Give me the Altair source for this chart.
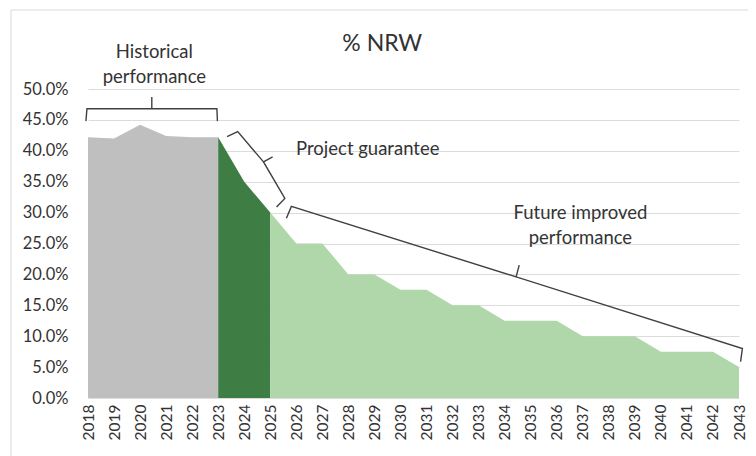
import altair as alt
import pandas as pd

# --- data ---
years = list(range(2018, 2044))
nrw_pct = [42.2, 42.0, 44.2, 42.4, 42.2, 42.2, 35.0, 30.0, 25.0, 25.0, 20.0, 20.0,
           17.5, 17.5, 15.0, 15.0, 12.5, 12.5, 12.5, 10.0, 10.0, 10.0, 7.5, 7.5, 7.5, 5.0]
segments = ["Historical", "Project", "Future"]
segment_ranges = [(2018, 2023), (2023, 2025), (2025, 2043)]
segment_colors = ["#bfbfbf", "#3e7e44", "#b0d7aa"]
y_ticks = [0, 0.05, 0.10, 0.15, 0.20, 0.25, 0.30, 0.35, 0.40, 0.45, 0.50]

# brace annotations (year, percent) in data coordinates
brace_hist_x = [2017.92, 2017.96, 2020.45, 2020.45, 2020.45, 2022.95, 2022.97]
brace_hist_y = [44.8, 46.8, 46.8, 48.7, 46.8, 46.8, 44.8]
brace_proj_x = [2023.34, 2023.75, 2024.74, 2025.09, 2024.74, 2025.56, 2025.24]
brace_proj_y = [42.3, 43.1, 38.2, 39.0, 38.2, 32.3, 30.9]
brace_fut_x = [2025.62, 2025.81, 2034.44, 2034.56, 2034.44, 2043.13, 2043.06]
brace_fut_y = [29.1, 31.0, 19.6, 21.5, 19.6, 8.0, 5.9]

label_texts = ["% NRW", "Historical", "performance", "Project guarantee",
               "Future improved", "performance"]
label_x = [2029.3, 2020.55, 2020.55, 2025.99, 2036.91, 2036.91]
label_y = [57.3, 56.0, 51.9, 40.3, 29.9, 25.9]
label_size = [23, 18.5, 18.5, 18.5, 18.5, 18.5]
label_align = ["center", "center", "center", "left", "center", "center"]

# --- build tables ---
rows = []
for seg, (a, b) in zip(segments, segment_ranges):
    for yr, v in zip(years, nrw_pct):
        if a <= yr <= b:
            rows.append({"year": yr, "nrw": v / 100.0, "segment": seg})
area_df = pd.DataFrame(rows)

brace_rows = []
for name, xs, ys in [("hist", brace_hist_x, brace_hist_y),
                     ("proj", brace_proj_x, brace_proj_y),
                     ("fut", brace_fut_x, brace_fut_y)]:
    for i, (bx, by) in enumerate(zip(xs, ys)):
        brace_rows.append({"brace": name, "i": i, "x": bx, "y": by / 100.0})
brace_df = pd.DataFrame(brace_rows)

label_df = pd.DataFrame({"text": label_texts, "x": label_x,
                         "y": [v / 100.0 for v in label_y],
                         "size": label_size, "align": label_align})

xscale = alt.Scale(domain=[2018, 2043], nice=False, zero=False)
yscale = alt.Scale(domain=[0, 0.5], nice=False)

x_axis = alt.Axis(values=years, format="d", labelAngle=-90, title=None,
                  grid=False, domain=False, ticks=False, labelPadding=6,
                  labelFontSize=15.5, labelFont="Lato", labelColor="#333333",
                  labelBaseline="middle", labelOverlap=False,
                  labelBound=False, labelFlush=False)
y_axis = alt.Axis(values=y_ticks, format=".1%", title=None, grid=True,
                  gridColor="#dcdcdc", domain=False, ticks=False,
                  labelPadding=20, labelFontSize=16.5, labelFont="Lato",
                  labelColor="#333333", labelOverlap=False, labelFlush=False)

area = alt.Chart(area_df).mark_area(opacity=1, interpolate="linear").encode(
    x=alt.X("year:Q", scale=xscale, axis=x_axis),
    y=alt.Y("nrw:Q", scale=yscale, stack=None, axis=y_axis),
    color=alt.Color("segment:N", scale=alt.Scale(domain=segments, range=segment_colors),
                    legend=None),
)

braces = alt.Chart(brace_df).mark_line(color="#404040", strokeWidth=1.4, clip=False).encode(
    x=alt.X("x:Q", scale=xscale, axis=x_axis),
    y=alt.Y("y:Q", scale=yscale, axis=y_axis),
    detail="brace:N",
    order="i:Q",
)

labels_center = alt.Chart(label_df[label_df["align"] == "center"]).mark_text(
    font="Lato", color="#333333", align="center", baseline="middle"
).encode(
    x=alt.X("x:Q", scale=xscale, axis=x_axis),
    y=alt.Y("y:Q", scale=yscale, axis=y_axis),
    text="text:N",
    size=alt.Size("size:Q", scale=None, legend=None),
)
labels_left = alt.Chart(label_df[label_df["align"] == "left"]).mark_text(
    font="Lato", color="#333333", align="left", baseline="middle"
).encode(
    x=alt.X("x:Q", scale=xscale, axis=x_axis),
    y=alt.Y("y:Q", scale=yscale, axis=y_axis),
    text="text:N",
    size=alt.Size("size:Q", scale=None, legend=None),
)

frame_data = alt.Data(values=[{}])
frame_top = alt.Chart(frame_data).mark_rule(color="#d9d9d9", strokeWidth=1).encode(
    x=alt.value(-77), x2=alt.value(660), y=alt.value(-79))
frame_left = alt.Chart(frame_data).mark_rule(color="#d9d9d9", strokeWidth=1).encode(
    x=alt.value(-77), y=alt.value(-79), y2=alt.value(367))

chart = alt.layer(area, braces, labels_center, labels_left, frame_top, frame_left).properties(
    width=651, height=309,
    autosize=alt.AutoSizeParams(type="none"),
    padding={"left": 80, "top": 81, "right": 9, "bottom": 58},
).configure(background="white").configure_view(strokeWidth=0)

chart.save("out.html", embed_options={"renderer": "svg", "actions": False})
